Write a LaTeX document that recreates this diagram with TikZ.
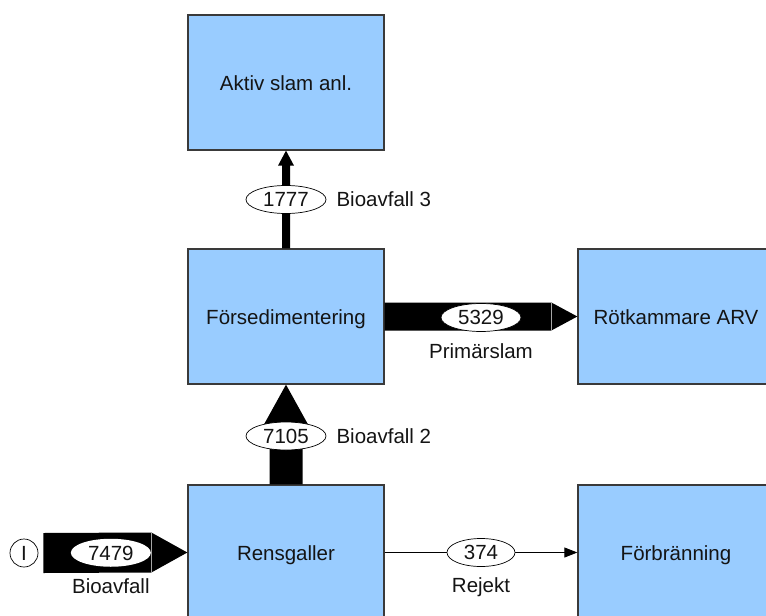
\documentclass[tikz,border=0pt]{standalone}
\usepackage{fontspec}
\setmainfont{Liberation Sans}
\usetikzlibrary{calc,shapes.geometric,arrows.meta}
\definecolor{boxfill}{HTML}{99CCFF}
\definecolor{boxline}{HTML}{3A3A3A}
\definecolor{ink}{HTML}{141414}
\begin{document}
\begin{tikzpicture}[x=1pt,y=-1pt,
  every node/.style={font=\fontsize{20.5}{24}\selectfont, text=ink},
  unit/.style={draw=boxline, fill=boxfill, line width=1.3pt,
    minimum width=196pt, minimum height=135pt, inner sep=0pt,
    text height=16.8pt, text depth=0pt},
  flow/.style={ellipse, draw=black, fill=white, line width=0.7pt,
    minimum width=80pt, minimum height=28pt, inner sep=0pt,
    text height=14.7pt, text depth=0pt},
  source/.style={circle, draw=black, fill=white, line width=0.7pt,
    minimum size=28pt, inner sep=0pt, text height=14.7pt, text depth=0pt},
  band/.style={fill=black},
  seam/.style={draw=gray!70, line width=0.4pt},
  lbl/.style={inner sep=0pt, text height=14.7pt, text depth=0pt}
]
\useasboundingbox (0,0) rectangle (766,616);
\clip (0,0) rectangle (766,616);

% process units
\node[unit] (aktiv) at (286,82.5)  {Aktiv slam anl.};
\node[unit] (fors)  at (286,316.5) {Försedimentering};
\node[unit] (rot)   at (676,316.5) {Rötkammare ARV};
\node[unit] (rens)  at (286,552.5) {Rensgaller};
\node[unit] (forb)  at (676,552.5) {Förbränning};
\node[source] (in)  at (24,553) {I};

% Bioavfall 3: narrow arrow up
\fill[band] ($(fors.north)+(-4,0)$) -- ($(aktiv.south)+(-4,15)$)
  -- ($(aktiv.south)+(-8,15)$) -- (aktiv.south) -- ($(aktiv.south)+(8,15)$)
  -- ($(aktiv.south)+(4,15)$) -- ($(fors.north)+(4,0)$) -- cycle;

% Bioavfall 2: wide arrow up
\fill[band] ($(rens.north)+(-16.5,0)$) -- ($(fors.south)+(-16.5,56)$)
  -- ($(fors.south)+(-31,56)$) -- (fors.south) -- ($(fors.south)+(31,56)$)
  -- ($(fors.south)+(16.5,56)$) -- ($(rens.north)+(16.5,0)$) -- cycle;

% Primärslam: block arrow right
\fill[band] ($(fors.east)+(0,-14)$) -- ($(rot.west)+(-26,-14)$)
  -- (rot.west) -- ($(rot.west)+(-26,14)$) -- ($(fors.east)+(0,14)$) -- cycle;
\draw[seam] ($(rot.west)+(-26,-14)$) -- ($(rot.west)+(-26,14)$);

% Bioavfall in: block arrow right
\fill[band] ($(in.east)+(5,-20)$) -- ($(rens.west)+(-36,-20)$)
  -- (rens.west) -- ($(rens.west)+(-36,20)$) -- ($(in.east)+(5,20)$) -- cycle;
\draw[seam] ($(rens.west)+(-36,-20)$) -- ($(rens.west)+(-36,20)$);

% Rejekt: thin line
\draw[line width=0.8pt, -{Triangle[length=13pt,width=10pt]}] (rens.east) -- (forb.west);

% flow values
\node[flow] (q3)  at ($(fors.north)!0.5!(aktiv.south)$) {1777};
\node[flow] (q2)  at ($(rens.north)!0.5!(fors.south)+(0,1.5)$) {7105};
\node[flow] (qp)  at ($(fors.east)!0.5!(rot.west)+(0,1)$) {5329};
\node[flow, minimum width=68pt] (qr) at ($(rens.east)!0.5!(forb.west)$) {374};
\node[flow, draw=none] (qi) at ($(in.east)!0.5!(rens.west)+(-2,0)$) {7479};

% flow names
\node[lbl, anchor=west] at ($(q3.east)+(10,0)$) {Bioavfall 3};
\node[lbl, anchor=west] at ($(q2.east)+(10,0)$) {Bioavfall 2};
\node[lbl] at ($(qp)+(0,34)$) {Primärslam};
\node[lbl] at ($(qr)+(0,33)$) {Rejekt};
\node[lbl] at ($(qi)+(0,33)$) {Bioavfall};
\end{tikzpicture}
\end{document}
